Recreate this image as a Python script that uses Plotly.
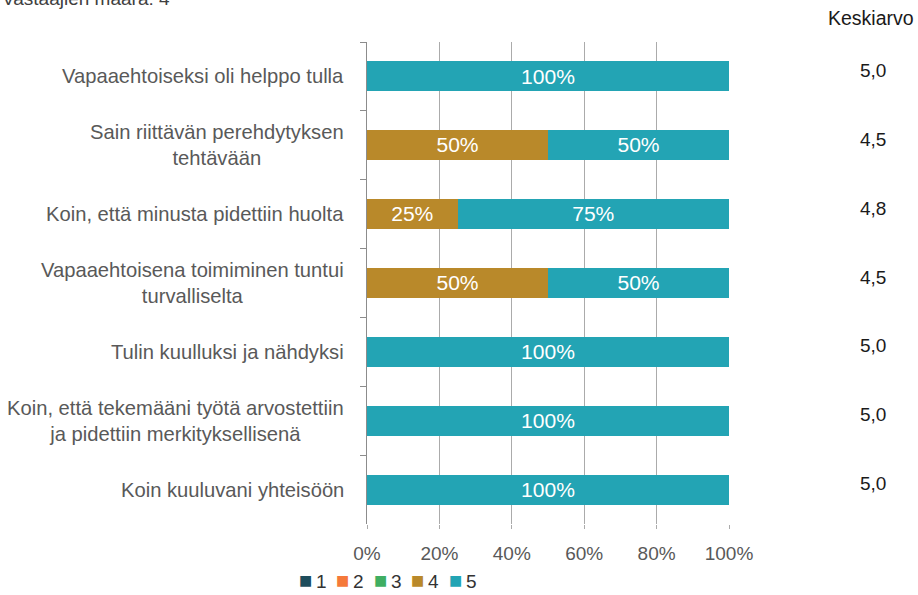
import plotly.graph_objects as go

categories = [
    "Vapaaehtoiseksi oli helppo tulla",
    "Sain riittävän perehdytyksen<br>tehtävään",
    "Koin, että minusta pidettiin huolta",
    "Vapaaehtoisena toimiminen tuntui<br>turvalliselta",
    "Tulin kuulluksi ja nähdyksi",
    "Koin, että tekemääni työtä arvostettiin<br>ja pidettiin merkityksellisenä",
    "Koin kuuluvani yhteisöön",
]
series_names = ["1", "2", "3", "4", "5"]
s1 = [0, 0, 0, 0, 0, 0, 0]
s2 = [0, 0, 0, 0, 0, 0, 0]
s3 = [0, 0, 0, 0, 0, 0, 0]
s4 = [0, 50, 25, 50, 0, 0, 0]
s5 = [100, 50, 75, 50, 100, 100, 100]
averages = ["5,0", "4,5", "4,8", "4,5", "5,0", "5,0", "5,0"]
x_ticks = [0, 20, 40, 60, 80, 100]
x_tick_labels = ["0%", "20%", "40%", "60%", "80%", "100%"]
colors = ["#1E4D5C", "#F5793A", "#3FAE62", "#B9892A", "#23A4B4"]
respondents_text = "Vastaajien määrä: 4"
avg_header = "Keskiarvo"

FONT = "Liberation Sans, Arial, sans-serif"
W, H = 918, 595
ML, MR, MT, MB = 367, 189, 42, 71
PW, PH = W - ML - MR, H - MT - MB

fig = go.Figure()
for name, vals, col in zip(series_names, [s1, s2, s3, s4, s5], colors):
    fig.add_trace(go.Bar(
        y=categories, x=vals, name=name, orientation="h",
        marker=dict(color=col, line=dict(width=0)),
        text=[f"{v}%" if v > 0 else "" for v in vals],
        textposition="inside", insidetextanchor="middle",
        textfont=dict(color="white", size=22, family=FONT),
        hoverinfo="skip", showlegend=False,
    ))

annotations = []
for cat in categories:
    annotations.append(dict(
        x=-21 / PW, xref="paper", y=cat, yref="y", xanchor="right",
        yanchor="middle", align="center", showarrow=False, text=cat,
        font=dict(size=20.2, color="#595959", family=FONT),
    ))
for cat, a in zip(categories, averages):
    annotations.append(dict(
        x=(873 - ML) / PW, xref="paper", y=cat, yref="y", yshift=6,
        xanchor="center", yanchor="middle", showarrow=False, text=a,
        font=dict(size=19, color="#1a1a1a", family=FONT),
    ))
annotations.append(dict(
    x=(871 - ML) / PW, xref="paper", y=1 + (MT - 18) / PH, yref="paper",
    xanchor="center", yanchor="middle", showarrow=False, text=avg_header,
    font=dict(size=19.5, color="#1a1a1a", family=FONT),
))
annotations.append(dict(
    x=-ML / PW, xref="paper", y=1 + (MT - 11) / PH, yref="paper",
    xanchor="left", yanchor="bottom", showarrow=False, text=respondents_text,
    font=dict(size=19, color="#404040", family=FONT),
))
# legend entries (compact, Excel-like)
LEG_Y = -(581 - (MT + PH)) / PH
for i, (name, col) in enumerate(zip(series_names, colors)):
    x0 = 300 + i * 37.4
    annotations.append(dict(
        x=(x0 + 5.5 - ML) / PW, xref="paper", y=LEG_Y, yref="paper",
        xanchor="center", yanchor="middle", showarrow=False, yshift=1,
        text="■", font=dict(size=14, color=col, family="DejaVu Sans"),
    ))
    annotations.append(dict(
        x=(x0 + 14 - ML) / PW, xref="paper", y=LEG_Y, yref="paper",
        xanchor="left", yanchor="middle", showarrow=False,
        text=name, font=dict(size=19, color="#333333", family=FONT),
    ))

fig.update_layout(
    width=W, height=H, barmode="stack", bargap=0.565,
    margin=dict(l=ML, r=MR, t=MT, b=MB, pad=0, autoexpand=False),
    paper_bgcolor="white", plot_bgcolor="white",
    font=dict(family=FONT, size=19, color="#595959"),
    xaxis=dict(
        range=[0, 100], tickvals=x_ticks, ticktext=x_tick_labels,
        showgrid=True, gridcolor="#ABABAB", gridwidth=1.3,
        ticks="outside", ticklen=4, tickcolor="#ABABAB",
        zeroline=False, showline=False,
        tickfont=dict(size=19, color="#595959"), ticklabelstandoff=8,
    ),
    yaxis=dict(
        autorange="reversed", showticklabels=False,
        ticks="outside", tickson="boundaries", ticklen=6, tickcolor="#8C8C8C",
        showline=True, linecolor="#8C8C8C", linewidth=1.3, showgrid=False,
    ),
    annotations=annotations,
    showlegend=False,
)

fig.write_html(
    "out.html",
    config={"displayModeBar": False},
    post_script="document.body.style.margin='0';document.body.style.padding='0';",
)
